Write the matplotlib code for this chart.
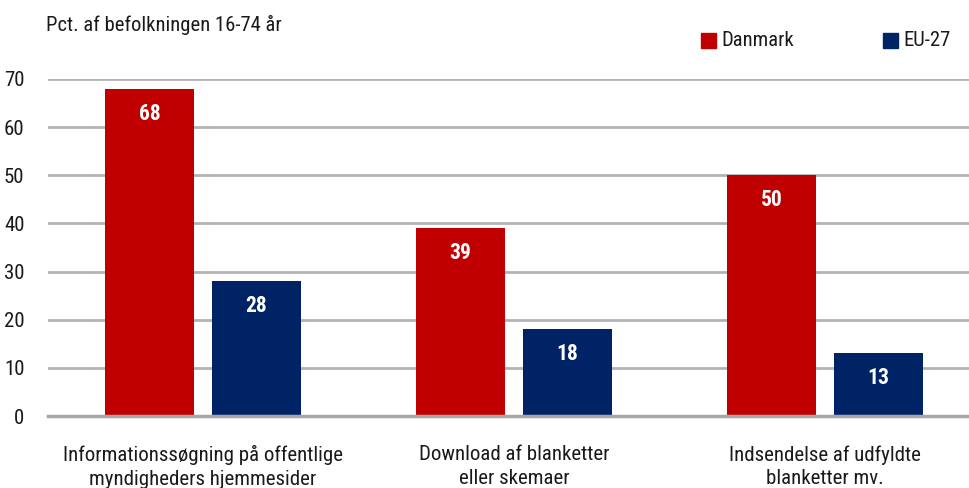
import matplotlib
matplotlib.use("Agg")
import matplotlib.pyplot as plt
from matplotlib import font_manager
from matplotlib.patches import Rectangle
import numpy as np

categories = ["Informationssøgning på offentlige\nmyndigheders hjemmesider",
              "Download af blanketter\neller skemaer",
              "Indsendelse af udfyldte\nblanketter mv."]
danmark = [68, 39, 50]
eu27 = [28, 18, 13]
series_names = ["Danmark", "EU-27"]
yticks = [0, 10, 20, 30, 40, 50, 60, 70]
ylabel_text = "Pct. af befolkningen 16-74 år"

names = {f.name for f in font_manager.fontManager.ttflist}
narrow = None
for cand in ["Liberation Sans Narrow", "Roboto Condensed", "Open Sans Condensed",
             "Noto Sans Condensed", "DejaVu Sans Condensed"]:
    if cand in names:
        narrow = cand
        break
condensed_stretch = False
if narrow is None:
    for f in font_manager.fontManager.ttflist:
        if f.name in ("DejaVu Sans", "Noto Sans", "Open Sans", "Roboto") and \
                str(f.stretch) in ("condensed", "semi-condensed", "75", "87.5"):
            narrow = f.name
            condensed_stretch = True
            break
if narrow is None:
    narrow = "DejaVu Sans"
    scale = 0.9
else:
    scale = 1.0
plt.rcParams['font.family'] = [narrow, 'DejaVu Sans']
if condensed_stretch:
    plt.rcParams['font.stretch'] = 'condensed'

red = "#C00000"
blue = "#002366"
grid_c = "#b3b3b3"
txt_c = "#1a1a1a"

fig = plt.figure(figsize=(9.70, 4.88), dpi=100)
ax = fig.add_axes([48/970, 1-416/488, 1-48/970, (416-79)/488])

x = np.arange(len(categories))
w = 0.286
off = 0.172
b1 = ax.bar(x - off, danmark, w, color=red, zorder=3)
b2 = ax.bar(x + off, eu27, w, color=blue, zorder=3)

for bars, vals in ((b1, danmark), (b2, eu27)):
    for r, v in zip(bars, vals):
        ax.text(r.get_x() + r.get_width()/2, v - 5.2, f"{v}", ha='center', va='center',
                color='white', fontsize=15.5*scale, fontweight='bold', zorder=4)

ax.set_ylim(0, 70)
ax.set_xlim(-0.498, 2.466)
ax.set_yticks(yticks)
ax.set_yticklabels([str(t) for t in yticks], fontsize=15*scale, color=txt_c)
ax.tick_params(axis='y', length=0, pad=17)
ax.tick_params(axis='x', length=0, pad=21)
ax.set_xticks(x)
ax.set_xticklabels(categories, fontsize=15*scale, linespacing=1.3, color=txt_c)
ax.yaxis.grid(True, color=grid_c, linewidth=2, zorder=0)
ax.set_axisbelow(True)
for s in ['top', 'right', 'left']:
    ax.spines[s].set_visible(False)
ax.spines['bottom'].set_color("#a6a6a6")
ax.spines['bottom'].set_linewidth(2.5)
ax.spines['bottom'].set_zorder(5)

fig.text(46/970, 1-25/488, ylabel_text, fontsize=14.9*scale, va='center', ha='left', color=txt_c)

for xs, c, lab in ((701, red, series_names[0]), (883, blue, series_names[1])):
    fig.patches.append(Rectangle((xs/970, 1-48/488), 15/970, 15/488, transform=fig.transFigure,
                                 color=c, figure=fig))
    fig.text((xs+20)/970, 1-41/488, lab, fontsize=14.9*scale, va='center', ha='left', color=txt_c)

fig.savefig("out.png", dpi=100)
